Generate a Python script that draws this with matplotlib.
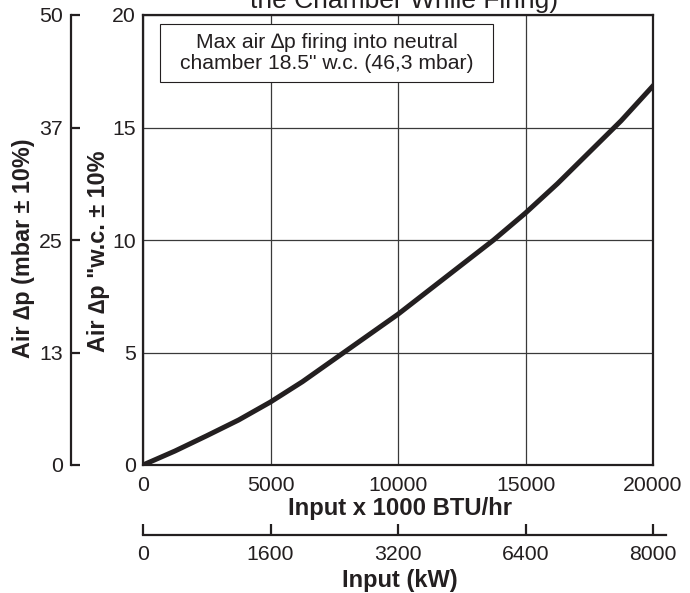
import numpy as np
import matplotlib.pyplot as plt
from matplotlib.patches import Rectangle

plt.rcParams['font.family'] = ['Liberation Sans', 'DejaVu Sans']

# curve (input x1000 BTU/hr vs air dp in "w.c.)
btu = [0, 1250, 2500, 3750, 5000, 6250, 7500, 8750, 10000,
       11250, 12500, 13750, 15000, 16250, 17500, 18750, 20000]
dp_wc = [0, 0.62, 1.3, 2.0, 2.8, 3.7, 4.7, 5.7, 6.7,
         7.8, 8.9, 10.0, 11.2, 12.5, 13.9, 15.3, 16.85]

btu_ticks = [0, 5000, 10000, 15000, 20000]
wc_ticks = [0, 5, 10, 15, 20]
mbar_labels = ['0', '13', '25', '37', '50']
kw_labels = ['0', '1600', '3200', '6400', '8000']

ink = '#231f20'
W, H = 690, 593
fig = plt.figure(figsize=(W/100, H/100), dpi=100)

# main chart
ax = fig.add_axes([143/W, 1-465/H, 510/W, 450/H])
ax.plot(btu, dp_wc, color=ink, lw=3.6, zorder=4)
ax.set_xlim(0, 20000)
ax.set_ylim(0, 20)
ax.set_xticks(btu_ticks)
ax.set_yticks(wc_ticks)
ax.grid(True, color='#3a3a3a', lw=0.9, zorder=1)
ax.set_axisbelow(True)
ax.tick_params(length=0, labelsize=15.3, labelcolor=ink)
ax.tick_params(axis='x', pad=8)
ax.tick_params(axis='y', pad=5)
for s in ax.spines.values():
    s.set_linewidth(1.6)
    s.set_color(ink)
    s.set_zorder(5)

ax.add_patch(Rectangle((0.0333, 0.851), 0.653, 0.129, transform=ax.transAxes,
                       facecolor='white', edgecolor=ink, lw=0.8, zorder=3))
ax.text(0.36, 0.916, 'Max air \u2206p firing into neutral\nchamber 18.5" w.c. (46,3 mbar)',
        transform=ax.transAxes, ha='center', va='center', fontsize=15.2,
        linespacing=1.15, color=ink, zorder=4)

# mbar axis on the far left
ax2 = fig.add_axes([71/W, 1-465/H, 0.0001, 450/H])
ax2.patch.set_visible(False)
ax2.set_ylim(0, 20)
ax2.set_yticks(wc_ticks)
ax2.set_yticklabels(mbar_labels)
ax2.set_xticks([])
for k in ['top', 'right', 'bottom']:
    ax2.spines[k].set_visible(False)
ax2.spines['left'].set_linewidth(1.6)
ax2.spines['left'].set_color(ink)
ax2.tick_params(axis='y', direction='in', length=6.5, width=1.6, color=ink,
                labelsize=15.3, labelcolor=ink, pad=6)

# kW axis at the bottom
ax3 = fig.add_axes([143/W, 1-535/H, (666-143)/W, 0.0001])
ax3.patch.set_visible(False)
ax3.set_xlim(0, 20000*(666-143)/510)
ax3.set_xticks(btu_ticks)
ax3.set_xticklabels(kw_labels)
ax3.set_yticks([])
for k in ['top', 'right', 'left']:
    ax3.spines[k].set_visible(False)
ax3.spines['bottom'].set_linewidth(1.6)
ax3.spines['bottom'].set_color(ink)
ax3.tick_params(axis='x', direction='in', length=8, width=1.6, color=ink,
                labelsize=15.3, labelcolor=ink, pad=7.5)

# labels
fig.text(404/W, 1-8/H, 'the Chamber While Firing)', ha='center', va='baseline',
         fontsize=19, color=ink)
fig.text(400/W, 1-515/H, 'Input x 1000 BTU/hr', ha='center', va='baseline',
         fontsize=17.2, fontweight='bold', color=ink)
fig.text(400/W, 1-587/H, 'Input (kW)', ha='center', va='baseline',
         fontsize=17, fontweight='bold', color=ink)
fig.text(24/W, 1-248/H, 'Air \u2206p (mbar \u00b1 10%)', rotation=90, ha='center',
         va='center', fontsize=16.8, fontweight='bold', color=ink)
fig.text(99/W, 1-251/H, 'Air \u2206p "w.c. \u00b1 10%', rotation=90, ha='center',
         va='center', fontsize=16.8, fontweight='bold', color=ink)

fig.savefig('out.png', dpi=100)
